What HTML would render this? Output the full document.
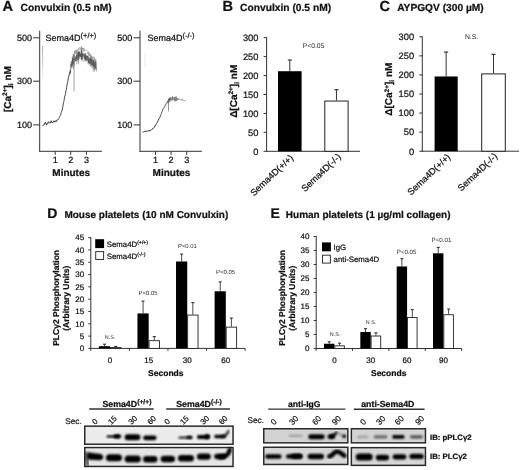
<!DOCTYPE html>
<html><head><meta charset="utf-8"><style>
html,body{margin:0;padding:0;background:#fff;width:520px;height:470px;overflow:hidden}
svg{display:block;filter:grayscale(1);font-family:"Liberation Sans",sans-serif}
text{stroke:#111;stroke-width:0.22px;text-rendering:geometricPrecision}
text.n{stroke:none}
</style></head><body>
<svg width="520" height="470" viewBox="0 0 520 470">
<rect width="520" height="470" fill="#fff"/>
<text x="2.40" y="10.70" font-size="14.6" font-weight="bold" text-anchor="start" fill="#111" >A</text>
<text x="20.60" y="10.60" font-size="10.25" font-weight="bold" text-anchor="start" fill="#111" >Convulxin (0.5 nM)</text>
<text x="222.60" y="10.70" font-size="14.6" font-weight="bold" text-anchor="start" fill="#111" >B</text>
<text x="240.00" y="10.60" font-size="10.25" font-weight="bold" text-anchor="start" fill="#111" >Convulxin (0.5 nM)</text>
<text x="379.60" y="10.70" font-size="14.6" font-weight="bold" text-anchor="start" fill="#111" >C</text>
<text x="397.20" y="10.60" font-size="10.2" font-weight="bold" text-anchor="start" fill="#111" >AYPGQV (300 µM)</text>
<text x="47.20" y="218.30" font-size="14" font-weight="bold" text-anchor="start" fill="#111" >D</text>
<text x="64.40" y="218.20" font-size="10" font-weight="bold" text-anchor="start" fill="#111" >Mouse platelets (10 nM Convulxin)</text>
<text x="270.40" y="217.90" font-size="14" font-weight="bold" text-anchor="start" fill="#111" >E</text>
<text x="285.80" y="217.90" font-size="10" font-weight="bold" text-anchor="start" fill="#111" >Human platelets (1 µg/ml collagen)</text>
<line x1="39.70" y1="30.70" x2="39.70" y2="151.80" stroke="#333" stroke-width="1"/>
<line x1="39.20" y1="151.30" x2="101.90" y2="151.30" stroke="#333" stroke-width="1"/>
<line x1="33.20" y1="37.80" x2="39.70" y2="37.80" stroke="#333" stroke-width="1"/>
<text x="32.10" y="41.00" font-size="9" text-anchor="end" fill="#111" >500</text>
<line x1="33.20" y1="81.20" x2="39.70" y2="81.20" stroke="#333" stroke-width="1"/>
<text x="32.10" y="84.40" font-size="9" text-anchor="end" fill="#111" >300</text>
<line x1="33.20" y1="124.90" x2="39.70" y2="124.90" stroke="#333" stroke-width="1"/>
<text x="32.10" y="128.10" font-size="9" text-anchor="end" fill="#111" >100</text>
<line x1="55.20" y1="151.30" x2="55.20" y2="154.80" stroke="#333" stroke-width="1"/>
<text x="55.20" y="162.80" font-size="9" text-anchor="middle" fill="#111" >1</text>
<line x1="70.70" y1="151.30" x2="70.70" y2="154.80" stroke="#333" stroke-width="1"/>
<text x="70.70" y="162.80" font-size="9" text-anchor="middle" fill="#111" >2</text>
<line x1="86.40" y1="151.30" x2="86.40" y2="154.80" stroke="#333" stroke-width="1"/>
<text x="86.40" y="162.80" font-size="9" text-anchor="middle" fill="#111" >3</text>
<text x="71.20" y="175.80" font-size="10" font-weight="bold" text-anchor="middle" fill="#111" >Minutes</text>
<text x="45.60" y="40.5" font-size="9" fill="#111">Sema4D<tspan font-size="7.4" dy="-2.6">(+/+)</tspan></text>
<polyline points="42.70,125.58 43.00,125.83 43.30,125.31 43.60,125.45 43.90,125.24 44.20,124.10 44.55,123.42 44.90,124.14 45.25,122.61 45.60,121.97 45.93,123.93 46.27,123.82 46.60,125.14 47.00,124.03 47.40,123.76 47.80,122.44 48.13,122.75 48.47,122.66 48.80,121.64 49.13,122.59 49.47,123.07 49.80,122.70 50.15,123.31 50.50,122.55 50.85,121.58 51.20,120.65 51.60,122.32 52.00,122.02 52.40,122.75 52.72,122.69 53.04,122.10 53.36,122.11 53.68,120.95 54.00,121.28 54.35,120.96 54.70,122.00 55.05,122.16 55.40,121.16 55.75,120.87 56.10,120.65 56.45,121.49 56.80,120.30 57.15,120.43 57.50,119.73 57.85,119.89 58.20,119.52 58.53,118.72 58.86,118.35 59.19,117.61 59.51,117.38 59.84,116.28 60.17,115.76 60.50,114.93 60.84,114.11 61.18,112.75 61.52,111.16 61.86,111.01 62.20,110.16 62.53,108.43 62.86,106.37 63.19,104.89 63.51,102.62 63.84,101.71 64.17,99.75 64.50,97.74 64.86,95.76 65.22,94.98 65.58,93.43 65.94,90.63 66.30,89.76 66.64,87.41 66.98,85.22 67.32,83.51 67.66,82.20 68.00,80.45 68.33,77.95 68.67,77.14 69.00,74.95 69.33,74.26 69.67,72.30 70.00,71.46" fill="none" stroke="#3a3a3a" stroke-width="0.95" stroke-linejoin="round" opacity="1"/>
<polyline points="70.00,74.85 70.25,70.04 70.50,72.99 70.75,66.48 71.00,63.62 71.25,66.80 71.50,61.25 71.75,61.58 72.00,62.26 72.25,63.47 72.50,59.42 72.75,58.09 73.00,64.28 73.25,59.43 73.50,64.17 73.75,63.26 74.00,58.69 74.25,58.93 74.50,58.99 74.75,59.57 75.00,58.77 75.25,58.31 75.50,58.63 75.75,61.02 76.00,57.39 76.25,56.62 76.50,58.76 76.75,54.73 77.00,55.08 77.25,60.32 77.50,56.50 77.75,56.55 78.00,52.09 78.25,55.20 78.50,56.39 78.75,51.79 79.00,56.43 79.25,56.43 79.50,51.73 79.75,56.14 80.00,54.73 80.25,56.48 80.50,53.90 80.75,56.78 81.00,57.07 81.25,51.39 81.50,51.73 81.75,56.70 82.00,59.04 82.25,53.38 82.50,55.07 82.75,56.20 83.00,54.06 83.25,54.60 83.50,54.38 83.75,55.02 84.00,57.01 84.25,54.84 84.50,55.64 84.75,58.99 85.00,53.22 85.25,57.76 85.50,59.30 85.75,56.11 86.00,55.61 86.25,60.47 86.50,56.16 86.75,55.96 87.00,58.15 87.25,60.46 87.50,55.90 87.75,57.87 88.00,58.17 88.25,62.33 88.50,59.34 88.75,62.84 89.00,57.52 89.25,59.03 89.50,61.70 89.75,63.75 90.00,60.44 90.25,58.80 90.50,58.13 90.75,61.57 91.00,59.03 91.25,64.16 91.50,64.62 91.75,59.59 92.00,60.56 92.25,65.00 92.50,63.89 92.75,65.41 93.00,61.93 93.25,60.41 93.50,61.92 93.75,66.14 94.00,62.17 94.25,62.97 94.50,63.74 94.75,63.96 95.00,64.08 95.25,68.36 95.50,62.45 95.75,61.44 96.00,69.15 96.25,68.84 96.50,69.90" fill="none" stroke="#444" stroke-width="0.8" stroke-linejoin="round" opacity="0.75"/>
<line x1="81.73" y1="46.13" x2="81.73" y2="59.68" stroke="#555" stroke-width="0.75" opacity="0.55"/>
<line x1="90.13" y1="54.15" x2="90.13" y2="66.79" stroke="#555" stroke-width="0.75" opacity="0.55"/>
<line x1="77.80" y1="53.66" x2="77.80" y2="58.00" stroke="#555" stroke-width="0.75" opacity="0.55"/>
<line x1="85.89" y1="53.40" x2="85.89" y2="59.41" stroke="#555" stroke-width="0.75" opacity="0.55"/>
<line x1="94.40" y1="56.88" x2="94.40" y2="71.61" stroke="#555" stroke-width="0.75" opacity="0.55"/>
<line x1="94.29" y1="62.06" x2="94.29" y2="70.02" stroke="#555" stroke-width="0.75" opacity="0.55"/>
<line x1="74.64" y1="54.71" x2="74.64" y2="62.00" stroke="#555" stroke-width="0.75" opacity="0.55"/>
<line x1="81.17" y1="48.22" x2="81.17" y2="60.35" stroke="#555" stroke-width="0.75" opacity="0.55"/>
<line x1="76.82" y1="51.06" x2="76.82" y2="64.44" stroke="#555" stroke-width="0.75" opacity="0.55"/>
<line x1="79.50" y1="52.30" x2="79.50" y2="59.07" stroke="#555" stroke-width="0.75" opacity="0.55"/>
<line x1="74.63" y1="50.55" x2="74.63" y2="66.01" stroke="#555" stroke-width="0.75" opacity="0.55"/>
<line x1="92.23" y1="60.27" x2="92.23" y2="65.29" stroke="#555" stroke-width="0.75" opacity="0.55"/>
<line x1="71.35" y1="63.22" x2="71.35" y2="68.89" stroke="#555" stroke-width="0.75" opacity="0.55"/>
<line x1="81.42" y1="49.91" x2="81.42" y2="57.14" stroke="#555" stroke-width="0.75" opacity="0.55"/>
<line x1="71.48" y1="63.57" x2="71.48" y2="66.43" stroke="#555" stroke-width="0.75" opacity="0.55"/>
<line x1="96.32" y1="62.62" x2="96.32" y2="71.70" stroke="#555" stroke-width="0.75" opacity="0.55"/>
<line x1="78.53" y1="52.90" x2="78.53" y2="59.65" stroke="#555" stroke-width="0.75" opacity="0.55"/>
<line x1="85.84" y1="55.30" x2="85.84" y2="60.63" stroke="#555" stroke-width="0.75" opacity="0.55"/>
<line x1="73.34" y1="55.24" x2="73.34" y2="64.66" stroke="#555" stroke-width="0.75" opacity="0.55"/>
<line x1="72.16" y1="60.35" x2="72.16" y2="65.81" stroke="#555" stroke-width="0.75" opacity="0.55"/>
<line x1="91.13" y1="56.74" x2="91.13" y2="65.78" stroke="#555" stroke-width="0.75" opacity="0.55"/>
<line x1="81.65" y1="51.65" x2="81.65" y2="59.72" stroke="#555" stroke-width="0.75" opacity="0.55"/>
<line x1="81.35" y1="50.33" x2="81.35" y2="58.93" stroke="#555" stroke-width="0.75" opacity="0.55"/>
<line x1="84.47" y1="53.85" x2="84.47" y2="61.30" stroke="#555" stroke-width="0.75" opacity="0.55"/>
<line x1="81.50" y1="46.50" x2="81.50" y2="60.40" stroke="#555" stroke-width="0.75" opacity="0.55"/>
<line x1="94.24" y1="60.07" x2="94.24" y2="69.53" stroke="#555" stroke-width="0.75" opacity="0.55"/>
<line x1="73.32" y1="54.15" x2="73.32" y2="68.80" stroke="#555" stroke-width="0.75" opacity="0.55"/>
<line x1="91.40" y1="55.59" x2="91.40" y2="67.16" stroke="#555" stroke-width="0.75" opacity="0.55"/>
<line x1="72.78" y1="59.53" x2="72.78" y2="64.54" stroke="#555" stroke-width="0.75" opacity="0.55"/>
<line x1="90.91" y1="60.23" x2="90.91" y2="62.66" stroke="#555" stroke-width="0.75" opacity="0.55"/>
<line x1="93.77" y1="62.46" x2="93.77" y2="67.59" stroke="#555" stroke-width="0.75" opacity="0.55"/>
<line x1="73.27" y1="54.00" x2="73.27" y2="68.76" stroke="#555" stroke-width="0.75" opacity="0.55"/>
<line x1="95.72" y1="59.31" x2="95.72" y2="67.67" stroke="#555" stroke-width="0.75" opacity="0.55"/>
<line x1="90.72" y1="56.05" x2="90.72" y2="63.78" stroke="#555" stroke-width="0.75" opacity="0.55"/>
<line x1="90.22" y1="57.71" x2="90.22" y2="66.01" stroke="#555" stroke-width="0.75" opacity="0.55"/>
<line x1="85.23" y1="53.06" x2="85.23" y2="60.94" stroke="#555" stroke-width="0.75" opacity="0.55"/>
<line x1="76.75" y1="50.78" x2="76.75" y2="61.04" stroke="#555" stroke-width="0.75" opacity="0.55"/>
<line x1="79.92" y1="51.89" x2="79.92" y2="58.46" stroke="#555" stroke-width="0.75" opacity="0.55"/>
<line x1="72.25" y1="56.21" x2="72.25" y2="66.42" stroke="#555" stroke-width="0.75" opacity="0.55"/>
<line x1="90.18" y1="57.72" x2="90.18" y2="64.37" stroke="#555" stroke-width="0.75" opacity="0.55"/>
<line x1="88.19" y1="55.40" x2="88.19" y2="64.59" stroke="#555" stroke-width="0.75" opacity="0.55"/>
<line x1="94.23" y1="62.70" x2="94.23" y2="67.52" stroke="#555" stroke-width="0.75" opacity="0.55"/>
<line x1="94.75" y1="60.56" x2="94.75" y2="69.92" stroke="#555" stroke-width="0.75" opacity="0.55"/>
<line x1="75.02" y1="55.84" x2="75.02" y2="61.44" stroke="#555" stroke-width="0.75" opacity="0.55"/>
<line x1="78.50" y1="52.12" x2="78.50" y2="60.22" stroke="#555" stroke-width="0.75" opacity="0.55"/>
<line x1="77.99" y1="51.33" x2="77.99" y2="63.13" stroke="#555" stroke-width="0.75" opacity="0.55"/>
<line x1="85.79" y1="55.45" x2="85.79" y2="59.19" stroke="#555" stroke-width="0.75" opacity="0.55"/>
<line x1="82.95" y1="53.10" x2="82.95" y2="58.63" stroke="#555" stroke-width="0.75" opacity="0.55"/>
<line x1="78.70" y1="52.28" x2="78.70" y2="64.02" stroke="#555" stroke-width="0.75" opacity="0.55"/>
<line x1="82.95" y1="50.98" x2="82.95" y2="61.85" stroke="#555" stroke-width="0.75" opacity="0.55"/>
<line x1="92.18" y1="58.09" x2="92.18" y2="68.04" stroke="#555" stroke-width="0.75" opacity="0.55"/>
<line x1="93.13" y1="58.55" x2="93.13" y2="68.92" stroke="#555" stroke-width="0.75" opacity="0.55"/>
<line x1="82.62" y1="53.30" x2="82.62" y2="59.13" stroke="#555" stroke-width="0.75" opacity="0.55"/>
<line x1="88.23" y1="50.94" x2="88.23" y2="64.22" stroke="#555" stroke-width="0.75" opacity="0.55"/>
<line x1="75.12" y1="55.85" x2="75.12" y2="61.74" stroke="#555" stroke-width="0.75" opacity="0.55"/>
<line x1="93.18" y1="58.87" x2="93.18" y2="71.74" stroke="#555" stroke-width="0.75" opacity="0.55"/>
<line x1="78.46" y1="50.94" x2="78.46" y2="57.92" stroke="#555" stroke-width="0.75" opacity="0.55"/>
<line x1="72.50" y1="57.71" x2="72.50" y2="67.02" stroke="#555" stroke-width="0.75" opacity="0.55"/>
<line x1="85.67" y1="55.20" x2="85.67" y2="61.69" stroke="#555" stroke-width="0.75" opacity="0.55"/>
<line x1="81.78" y1="52.43" x2="81.78" y2="59.84" stroke="#555" stroke-width="0.75" opacity="0.55"/>
<polyline points="73.00,58.00 73.30,55.02 73.60,55.20 73.90,52.82 74.20,53.01 74.50,54.23 74.80,51.30 75.10,54.20 75.40,53.80 75.70,49.73 76.00,52.94 76.30,50.20 76.60,51.70 76.90,51.38 77.20,49.10 77.50,50.52 77.80,50.18 78.10,50.60 78.40,47.97 78.70,49.87 79.00,50.53 79.30,49.31 79.60,48.76 79.90,46.95 80.20,48.67 80.50,48.10 80.80,49.76 81.10,49.64 81.40,49.19 81.70,47.55 82.00,49.64 82.31,49.69 82.62,47.82 82.92,51.06 83.23,50.15 83.54,47.92 83.85,51.59 84.15,48.23 84.46,49.18 84.77,51.01 85.08,50.58 85.38,50.51 85.69,51.03 86.00,50.31 86.31,50.02 86.62,49.77 86.92,49.64 87.23,52.83 87.54,53.35 87.85,52.77 88.15,53.98 88.46,52.65 88.77,52.59 89.08,53.45 89.38,55.95 89.69,52.64 90.00,55.02 90.31,54.20 90.62,56.80 90.92,55.28 91.23,55.50 91.54,56.11 91.85,57.03 92.15,58.35 92.46,56.81 92.77,59.30 93.08,56.37 93.38,57.37 93.69,56.93 94.00,57.30 94.31,60.60 94.62,60.75 94.94,58.74 95.25,59.13 95.56,60.51 95.88,62.32 96.19,63.01 96.50,63.09" fill="none" stroke="#777" stroke-width="0.7" stroke-linejoin="round" opacity="0.5"/>
<defs><linearGradient id="fade" x1="0" y1="0" x2="0" y2="1"><stop offset="0" stop-color="#999"/><stop offset="1" stop-color="#999" stop-opacity="0"/></linearGradient></defs>
<rect x="42.2" y="46" width="0.9" height="36" fill="url(#fade)"/>
<line x1="74.10" y1="60.00" x2="74.10" y2="91.40" stroke="#888" stroke-width="0.8"/>
<line x1="140.00" y1="30.70" x2="140.00" y2="151.80" stroke="#333" stroke-width="1"/>
<line x1="139.50" y1="151.30" x2="201.90" y2="151.30" stroke="#333" stroke-width="1"/>
<line x1="133.50" y1="37.80" x2="140.00" y2="37.80" stroke="#333" stroke-width="1"/>
<text x="132.40" y="41.00" font-size="9" text-anchor="end" fill="#111" >500</text>
<line x1="133.50" y1="81.20" x2="140.00" y2="81.20" stroke="#333" stroke-width="1"/>
<text x="132.40" y="84.40" font-size="9" text-anchor="end" fill="#111" >300</text>
<line x1="133.50" y1="124.90" x2="140.00" y2="124.90" stroke="#333" stroke-width="1"/>
<text x="132.40" y="128.10" font-size="9" text-anchor="end" fill="#111" >100</text>
<line x1="155.50" y1="151.30" x2="155.50" y2="154.80" stroke="#333" stroke-width="1"/>
<text x="155.50" y="162.80" font-size="9" text-anchor="middle" fill="#111" >1</text>
<line x1="171.00" y1="151.30" x2="171.00" y2="154.80" stroke="#333" stroke-width="1"/>
<text x="171.00" y="162.80" font-size="9" text-anchor="middle" fill="#111" >2</text>
<line x1="186.70" y1="151.30" x2="186.70" y2="154.80" stroke="#333" stroke-width="1"/>
<text x="186.70" y="162.80" font-size="9" text-anchor="middle" fill="#111" >3</text>
<text x="171.50" y="175.80" font-size="10" font-weight="bold" text-anchor="middle" fill="#111" >Minutes</text>
<text x="147.50" y="40.5" font-size="9" fill="#111">Sema4D<tspan font-size="7.4" dy="-2.6">(-/-)</tspan></text>
<polyline points="142.70,132.41 143.00,131.78 143.30,131.98 143.60,131.63 143.90,131.93 144.20,131.88 144.50,131.34 144.80,131.30 145.10,131.84 145.40,130.84 145.70,131.66 146.00,131.67 146.31,131.68 146.62,130.95 146.94,131.09 147.25,131.07 147.56,131.08 147.88,131.43 148.19,131.03 148.50,130.51 148.81,131.13 149.12,130.62 149.44,130.70 149.75,130.80 150.06,129.87 150.38,130.74 150.69,130.55 151.00,130.29 151.31,130.04 151.62,129.68 151.94,129.07 152.25,129.19 152.56,128.31 152.88,128.58 153.19,128.46 153.50,127.93 153.82,127.65 154.15,127.70 154.47,127.20 154.80,125.86 155.12,126.23 155.45,125.60 155.78,124.49 156.10,124.43 156.42,123.64 156.73,122.81 157.05,122.72 157.37,122.55 157.68,121.18 158.00,121.19 158.32,120.34 158.63,119.03 158.95,119.25 159.27,118.30 159.58,118.05 159.90,117.16 160.22,116.39 160.55,115.11 160.88,114.87 161.20,114.22 161.53,113.33 161.85,112.02 162.18,111.61 162.50,110.48 162.82,109.45 163.13,108.78 163.45,108.24 163.77,107.81 164.08,107.18 164.40,107.00 164.72,106.66 165.03,105.88 165.35,105.16 165.67,104.85 165.98,103.85 166.30,103.46 166.62,103.41 166.94,102.58 167.26,101.92 167.58,102.38 167.90,101.76 168.22,100.78 168.54,100.39 168.86,100.37 169.18,100.13 169.50,98.84 169.82,98.22 170.14,98.62 170.45,99.91 170.77,98.28 171.09,98.95 171.41,98.22 171.73,98.17 172.05,97.98 172.36,98.45 172.68,97.79 173.00,97.37" fill="none" stroke="#3a3a3a" stroke-width="0.9" stroke-linejoin="round" opacity="1"/>
<line x1="169.10" y1="99.06" x2="169.10" y2="100.50" stroke="#444" stroke-width="0.8" opacity="0.6"/>
<line x1="168.22" y1="99.84" x2="168.22" y2="102.80" stroke="#444" stroke-width="0.8" opacity="0.6"/>
<line x1="168.51" y1="99.56" x2="168.51" y2="101.39" stroke="#444" stroke-width="0.8" opacity="0.6"/>
<line x1="177.66" y1="98.55" x2="177.66" y2="100.13" stroke="#444" stroke-width="0.8" opacity="0.6"/>
<line x1="169.65" y1="98.06" x2="169.65" y2="100.45" stroke="#444" stroke-width="0.8" opacity="0.6"/>
<line x1="168.52" y1="99.33" x2="168.52" y2="103.14" stroke="#444" stroke-width="0.8" opacity="0.6"/>
<line x1="172.65" y1="96.90" x2="172.65" y2="100.18" stroke="#444" stroke-width="0.8" opacity="0.6"/>
<line x1="170.66" y1="96.91" x2="170.66" y2="100.82" stroke="#444" stroke-width="0.8" opacity="0.6"/>
<line x1="168.94" y1="97.54" x2="168.94" y2="102.15" stroke="#444" stroke-width="0.8" opacity="0.6"/>
<line x1="168.04" y1="100.92" x2="168.04" y2="101.80" stroke="#444" stroke-width="0.8" opacity="0.6"/>
<line x1="168.37" y1="100.02" x2="168.37" y2="102.02" stroke="#444" stroke-width="0.8" opacity="0.6"/>
<line x1="170.01" y1="97.18" x2="170.01" y2="102.32" stroke="#444" stroke-width="0.8" opacity="0.6"/>
<line x1="177.17" y1="97.95" x2="177.17" y2="100.76" stroke="#444" stroke-width="0.8" opacity="0.6"/>
<line x1="174.07" y1="97.42" x2="174.07" y2="100.34" stroke="#444" stroke-width="0.8" opacity="0.6"/>
<line x1="176.50" y1="98.17" x2="176.50" y2="99.65" stroke="#444" stroke-width="0.8" opacity="0.6"/>
<line x1="174.80" y1="97.32" x2="174.80" y2="101.44" stroke="#444" stroke-width="0.8" opacity="0.6"/>
<line x1="175.34" y1="96.66" x2="175.34" y2="101.72" stroke="#444" stroke-width="0.8" opacity="0.6"/>
<line x1="171.63" y1="97.94" x2="171.63" y2="100.64" stroke="#444" stroke-width="0.8" opacity="0.6"/>
<line x1="172.81" y1="97.84" x2="172.81" y2="99.93" stroke="#444" stroke-width="0.8" opacity="0.6"/>
<line x1="174.06" y1="97.04" x2="174.06" y2="100.42" stroke="#444" stroke-width="0.8" opacity="0.6"/>
<line x1="169.54" y1="98.61" x2="169.54" y2="101.24" stroke="#444" stroke-width="0.8" opacity="0.6"/>
<line x1="175.58" y1="97.83" x2="175.58" y2="100.09" stroke="#444" stroke-width="0.8" opacity="0.6"/>
<line x1="176.44" y1="96.53" x2="176.44" y2="101.32" stroke="#444" stroke-width="0.8" opacity="0.6"/>
<line x1="172.50" y1="96.00" x2="172.50" y2="100.38" stroke="#444" stroke-width="0.8" opacity="0.6"/>
<line x1="171.70" y1="98.16" x2="171.70" y2="100.06" stroke="#444" stroke-width="0.8" opacity="0.6"/>
<line x1="169.05" y1="99.14" x2="169.05" y2="100.93" stroke="#444" stroke-width="0.8" opacity="0.6"/>
<line x1="174.49" y1="98.14" x2="174.49" y2="99.35" stroke="#444" stroke-width="0.8" opacity="0.6"/>
<line x1="174.45" y1="97.92" x2="174.45" y2="99.83" stroke="#444" stroke-width="0.8" opacity="0.6"/>
<line x1="177.67" y1="98.03" x2="177.67" y2="100.08" stroke="#444" stroke-width="0.8" opacity="0.6"/>
<line x1="175.81" y1="96.70" x2="175.81" y2="100.56" stroke="#444" stroke-width="0.8" opacity="0.6"/>
<polyline points="169.50,98.88 169.82,98.76 170.14,98.48 170.45,99.88 170.77,98.36 171.09,98.09 171.41,99.89 171.73,98.26 172.05,99.56 172.36,97.85 172.68,98.52 173.00,97.95 173.31,99.20 173.62,98.81 173.92,98.90 174.23,99.18 174.54,99.44 174.85,98.42 175.15,98.98 175.46,98.70 175.77,98.07 176.08,99.56 176.38,99.11 176.69,99.59 177.00,98.41 177.31,99.14 177.62,99.05 177.92,99.64 178.23,98.40 178.54,99.00 178.85,99.34 179.15,98.57 179.46,99.60 179.77,100.02 180.08,99.46 180.38,99.97 180.69,99.95 181.00,99.23 181.31,99.52 181.63,100.82 181.94,99.51 182.26,99.72 182.57,99.04 182.89,99.32 183.20,99.23 183.51,100.78 183.83,100.38 184.14,100.69 184.46,100.93 184.77,100.20 185.09,100.85 185.40,100.07" fill="none" stroke="#999" stroke-width="0.8" stroke-linejoin="round" opacity="0.8"/>
<line x1="168.50" y1="100.00" x2="168.50" y2="111.20" stroke="#777" stroke-width="0.8"/>
<line x1="145.00" y1="53.00" x2="145.00" y2="66.70" stroke="#e4e4e4" stroke-width="0.8"/>
<text transform="translate(10.60,89.10) rotate(-90)" font-size="10" font-weight="bold" text-anchor="middle" fill="#111">[Ca<tspan font-size="6.5" dy="-3.5">2+</tspan><tspan dy="3.5">]</tspan><tspan font-size="6.5" dy="2">i</tspan><tspan dy="-2"> nM</tspan></text>
<line x1="266.60" y1="37.20" x2="266.60" y2="151.80" stroke="#333" stroke-width="1"/>
<line x1="266.10" y1="151.30" x2="360.00" y2="151.30" stroke="#333" stroke-width="1"/>
<line x1="263.60" y1="151.30" x2="266.60" y2="151.30" stroke="#333" stroke-width="1"/>
<text x="258.40" y="154.60" font-size="9.3" text-anchor="end" fill="#111" >0</text>
<line x1="263.60" y1="132.37" x2="266.60" y2="132.37" stroke="#333" stroke-width="1"/>
<text x="258.40" y="135.67" font-size="9.3" text-anchor="end" fill="#111" >50</text>
<line x1="263.60" y1="113.43" x2="266.60" y2="113.43" stroke="#333" stroke-width="1"/>
<text x="258.40" y="116.73" font-size="9.3" text-anchor="end" fill="#111" >100</text>
<line x1="263.60" y1="94.50" x2="266.60" y2="94.50" stroke="#333" stroke-width="1"/>
<text x="258.40" y="97.80" font-size="9.3" text-anchor="end" fill="#111" >150</text>
<line x1="263.60" y1="75.57" x2="266.60" y2="75.57" stroke="#333" stroke-width="1"/>
<text x="258.40" y="78.87" font-size="9.3" text-anchor="end" fill="#111" >200</text>
<line x1="263.60" y1="56.63" x2="266.60" y2="56.63" stroke="#333" stroke-width="1"/>
<text x="258.40" y="59.93" font-size="9.3" text-anchor="end" fill="#111" >250</text>
<line x1="263.60" y1="37.70" x2="266.60" y2="37.70" stroke="#333" stroke-width="1"/>
<text x="258.40" y="41.00" font-size="9.3" text-anchor="end" fill="#111" >300</text>
<line x1="289.80" y1="60.04" x2="289.80" y2="71.21" stroke="#333" stroke-width="1"/>
<line x1="287.80" y1="60.04" x2="291.80" y2="60.04" stroke="#333" stroke-width="1.2"/>
<rect x="278.00" y="71.21" width="23.60" height="80.09" fill="#000" stroke="none" stroke-width="1"/>
<line x1="336.45" y1="89.69" x2="336.45" y2="100.56" stroke="#333" stroke-width="1"/>
<line x1="334.45" y1="89.69" x2="338.45" y2="89.69" stroke="#333" stroke-width="1.2"/>
<rect x="324.80" y="101.06" width="23.30" height="50.24" fill="#fff" stroke="#222" stroke-width="1"/>
<text x="302.70" y="47.80" font-size="6.8" text-anchor="start" fill="#2a2a2a" class="n">P&lt;0.05</text>
<text transform="translate(236.60,91.30) rotate(-90)" font-size="10" font-weight="bold" text-anchor="middle" fill="#111">Δ[Ca<tspan font-size="6.5" dy="-3.5">2+</tspan><tspan dy="3.5">]</tspan><tspan font-size="6.5" dy="2">i</tspan><tspan dy="-2"> nM</tspan></text>
<text transform="translate(293.90,158.60) rotate(-43.5)" font-size="9.2" text-anchor="end" fill="#111">Sema4D(+/+)</text>
<text transform="translate(341.60,157.50) rotate(-43.5)" font-size="9.2" text-anchor="end" fill="#111">Sema4D(-/-)</text>
<line x1="422.30" y1="36.30" x2="422.30" y2="151.70" stroke="#333" stroke-width="1"/>
<line x1="421.80" y1="151.20" x2="519.00" y2="151.20" stroke="#333" stroke-width="1"/>
<line x1="419.30" y1="151.20" x2="422.30" y2="151.20" stroke="#333" stroke-width="1"/>
<text x="414.10" y="154.50" font-size="9.3" text-anchor="end" fill="#111" >0</text>
<line x1="419.30" y1="132.13" x2="422.30" y2="132.13" stroke="#333" stroke-width="1"/>
<text x="414.10" y="135.43" font-size="9.3" text-anchor="end" fill="#111" >50</text>
<line x1="419.30" y1="113.07" x2="422.30" y2="113.07" stroke="#333" stroke-width="1"/>
<text x="414.10" y="116.37" font-size="9.3" text-anchor="end" fill="#111" >100</text>
<line x1="419.30" y1="94.00" x2="422.30" y2="94.00" stroke="#333" stroke-width="1"/>
<text x="414.10" y="97.30" font-size="9.3" text-anchor="end" fill="#111" >150</text>
<line x1="419.30" y1="74.93" x2="422.30" y2="74.93" stroke="#333" stroke-width="1"/>
<text x="414.10" y="78.23" font-size="9.3" text-anchor="end" fill="#111" >200</text>
<line x1="419.30" y1="55.87" x2="422.30" y2="55.87" stroke="#333" stroke-width="1"/>
<text x="414.10" y="59.17" font-size="9.3" text-anchor="end" fill="#111" >250</text>
<line x1="419.30" y1="36.80" x2="422.30" y2="36.80" stroke="#333" stroke-width="1"/>
<text x="414.10" y="40.10" font-size="9.3" text-anchor="end" fill="#111" >300</text>
<line x1="446.15" y1="52.05" x2="446.15" y2="76.46" stroke="#333" stroke-width="1"/>
<line x1="444.15" y1="52.05" x2="448.15" y2="52.05" stroke="#333" stroke-width="1.2"/>
<rect x="434.60" y="76.46" width="23.10" height="74.74" fill="#000" stroke="none" stroke-width="1"/>
<line x1="493.50" y1="54.34" x2="493.50" y2="73.41" stroke="#333" stroke-width="1"/>
<line x1="491.50" y1="54.34" x2="495.50" y2="54.34" stroke="#333" stroke-width="1.2"/>
<rect x="481.70" y="73.91" width="23.60" height="77.29" fill="#fff" stroke="#222" stroke-width="1"/>
<text x="464.90" y="39.40" font-size="6.8" text-anchor="start" fill="#2a2a2a" class="n">N.S.</text>
<text transform="translate(392.40,89.20) rotate(-90)" font-size="10" font-weight="bold" text-anchor="middle" fill="#111">Δ[Ca<tspan font-size="6.5" dy="-3.5">2+</tspan><tspan dy="3.5">]</tspan><tspan font-size="6.5" dy="2">i</tspan><tspan dy="-2"> nM</tspan></text>
<text transform="translate(451.00,157.80) rotate(-43.5)" font-size="9.2" text-anchor="end" fill="#111">Sema4D(+/+)</text>
<text transform="translate(498.00,157.00) rotate(-43.5)" font-size="9.2" text-anchor="end" fill="#111">Sema4D(-/-)</text>
<line x1="90.80" y1="237.10" x2="90.80" y2="348.90" stroke="#333" stroke-width="1"/>
<line x1="90.30" y1="348.40" x2="245.10" y2="348.40" stroke="#333" stroke-width="1"/>
<line x1="88.30" y1="348.40" x2="90.80" y2="348.40" stroke="#333" stroke-width="1"/>
<text x="84.10" y="351.25" font-size="8" text-anchor="end" fill="#111" >0</text>
<line x1="88.30" y1="336.09" x2="90.80" y2="336.09" stroke="#333" stroke-width="1"/>
<text x="84.10" y="338.94" font-size="8" text-anchor="end" fill="#111" >5</text>
<line x1="88.30" y1="323.78" x2="90.80" y2="323.78" stroke="#333" stroke-width="1"/>
<text x="84.10" y="326.63" font-size="8" text-anchor="end" fill="#111" >10</text>
<line x1="88.30" y1="311.47" x2="90.80" y2="311.47" stroke="#333" stroke-width="1"/>
<text x="84.10" y="314.32" font-size="8" text-anchor="end" fill="#111" >15</text>
<line x1="88.30" y1="299.16" x2="90.80" y2="299.16" stroke="#333" stroke-width="1"/>
<text x="84.10" y="302.01" font-size="8" text-anchor="end" fill="#111" >20</text>
<line x1="88.30" y1="286.84" x2="90.80" y2="286.84" stroke="#333" stroke-width="1"/>
<text x="84.10" y="289.69" font-size="8" text-anchor="end" fill="#111" >25</text>
<line x1="88.30" y1="274.53" x2="90.80" y2="274.53" stroke="#333" stroke-width="1"/>
<text x="84.10" y="277.38" font-size="8" text-anchor="end" fill="#111" >30</text>
<line x1="88.30" y1="262.22" x2="90.80" y2="262.22" stroke="#333" stroke-width="1"/>
<text x="84.10" y="265.07" font-size="8" text-anchor="end" fill="#111" >35</text>
<line x1="88.30" y1="249.91" x2="90.80" y2="249.91" stroke="#333" stroke-width="1"/>
<text x="84.10" y="252.76" font-size="8" text-anchor="end" fill="#111" >40</text>
<line x1="88.30" y1="237.60" x2="90.80" y2="237.60" stroke="#333" stroke-width="1"/>
<text x="84.10" y="240.45" font-size="8" text-anchor="end" fill="#111" >45</text>
<line x1="90.80" y1="348.40" x2="90.80" y2="350.80" stroke="#333" stroke-width="1"/>
<line x1="129.38" y1="348.40" x2="129.38" y2="350.80" stroke="#333" stroke-width="1"/>
<line x1="167.95" y1="348.40" x2="167.95" y2="350.80" stroke="#333" stroke-width="1"/>
<line x1="206.53" y1="348.40" x2="206.53" y2="350.80" stroke="#333" stroke-width="1"/>
<line x1="245.10" y1="348.40" x2="245.10" y2="350.80" stroke="#333" stroke-width="1"/>
<line x1="104.49" y1="344.21" x2="104.49" y2="346.18" stroke="#333" stroke-width="0.9"/>
<line x1="102.99" y1="344.21" x2="105.99" y2="344.21" stroke="#333" stroke-width="1.1"/>
<rect x="98.89" y="346.18" width="11.20" height="2.22" fill="#000" stroke="none" stroke-width="1"/>
<line x1="115.69" y1="346.43" x2="115.69" y2="347.17" stroke="#333" stroke-width="0.9"/>
<line x1="114.19" y1="346.43" x2="117.19" y2="346.43" stroke="#333" stroke-width="1.1"/>
<rect x="110.49" y="347.57" width="10.40" height="0.83" fill="#fff" stroke="#222" stroke-width="0.9"/>
<text x="110.09" y="363.10" font-size="8" text-anchor="middle" fill="#111" >0</text>
<line x1="143.06" y1="301.13" x2="143.06" y2="313.44" stroke="#333" stroke-width="0.9"/>
<line x1="141.56" y1="301.13" x2="144.56" y2="301.13" stroke="#333" stroke-width="1.1"/>
<rect x="137.46" y="313.44" width="11.20" height="34.96" fill="#000" stroke="none" stroke-width="1"/>
<line x1="154.26" y1="336.58" x2="154.26" y2="340.27" stroke="#333" stroke-width="0.9"/>
<line x1="152.76" y1="336.58" x2="155.76" y2="336.58" stroke="#333" stroke-width="1.1"/>
<rect x="149.06" y="340.67" width="10.40" height="7.73" fill="#fff" stroke="#222" stroke-width="0.9"/>
<text x="148.66" y="363.10" font-size="8" text-anchor="middle" fill="#111" >15</text>
<line x1="181.64" y1="254.10" x2="181.64" y2="261.48" stroke="#333" stroke-width="0.9"/>
<line x1="180.14" y1="254.10" x2="183.14" y2="254.10" stroke="#333" stroke-width="1.1"/>
<rect x="176.04" y="261.48" width="11.20" height="86.92" fill="#000" stroke="none" stroke-width="1"/>
<line x1="192.84" y1="302.60" x2="192.84" y2="314.67" stroke="#333" stroke-width="0.9"/>
<line x1="191.34" y1="302.60" x2="194.34" y2="302.60" stroke="#333" stroke-width="1.1"/>
<rect x="187.64" y="315.07" width="10.40" height="33.33" fill="#fff" stroke="#222" stroke-width="0.9"/>
<text x="187.24" y="363.10" font-size="8" text-anchor="middle" fill="#111" >30</text>
<line x1="220.21" y1="281.92" x2="220.21" y2="291.28" stroke="#333" stroke-width="0.9"/>
<line x1="218.71" y1="281.92" x2="221.71" y2="281.92" stroke="#333" stroke-width="1.1"/>
<rect x="214.61" y="291.28" width="11.20" height="57.12" fill="#000" stroke="none" stroke-width="1"/>
<line x1="231.41" y1="318.11" x2="231.41" y2="326.73" stroke="#333" stroke-width="0.9"/>
<line x1="229.91" y1="318.11" x2="232.91" y2="318.11" stroke="#333" stroke-width="1.1"/>
<rect x="226.21" y="327.13" width="10.40" height="21.27" fill="#fff" stroke="#222" stroke-width="0.9"/>
<text x="225.81" y="363.10" font-size="8" text-anchor="middle" fill="#111" >60</text>
<text x="104.80" y="339.00" font-size="5.4" text-anchor="start" fill="#2a2a2a" class="n">N.S.</text>
<text x="138.40" y="294.80" font-size="6.0" text-anchor="start" fill="#2a2a2a" class="n">P&lt;0.05</text>
<text x="178.00" y="247.50" font-size="5.9" text-anchor="start" fill="#2a2a2a" class="n">P&lt;0.01</text>
<text x="216.00" y="273.80" font-size="6.0" text-anchor="start" fill="#2a2a2a" class="n">P&lt;0.05</text>
<text x="165.80" y="375.60" font-size="8.5" font-weight="bold" text-anchor="middle" fill="#111" >Seconds</text>
<rect x="95.20" y="239.20" width="8.90" height="8.90" fill="#000" stroke="none" stroke-width="1"/>
<rect x="95.70" y="251.60" width="7.90" height="7.90" fill="#fff" stroke="#333" stroke-width="1"/>
<text x="106.80" y="246.60" font-size="7.8" fill="#111">Sema4D<tspan font-size="5.2" dy="-2.8">(+/+)</tspan></text>
<text x="106.80" y="258.50" font-size="7.8" fill="#111">Sema4D<tspan font-size="5.2" dy="-2.8">(-/-)</tspan></text>
<text transform="translate(58.8,297.9) rotate(-90)" font-size="8.5" font-weight="bold" text-anchor="middle" fill="#111">PLCγ2 Phosphorylation</text>
<text transform="translate(68.7,298.2) rotate(-90)" font-size="8.5" font-weight="bold" text-anchor="middle" fill="#111">(Arbitrary Units)</text>
<line x1="316.20" y1="236.00" x2="316.20" y2="349.00" stroke="#333" stroke-width="1"/>
<line x1="315.70" y1="348.50" x2="461.60" y2="348.50" stroke="#333" stroke-width="1"/>
<line x1="313.70" y1="348.50" x2="316.20" y2="348.50" stroke="#333" stroke-width="1"/>
<text x="309.50" y="351.35" font-size="8" text-anchor="end" fill="#111" >0</text>
<line x1="313.70" y1="334.50" x2="316.20" y2="334.50" stroke="#333" stroke-width="1"/>
<text x="309.50" y="337.35" font-size="8" text-anchor="end" fill="#111" >5</text>
<line x1="313.70" y1="320.50" x2="316.20" y2="320.50" stroke="#333" stroke-width="1"/>
<text x="309.50" y="323.35" font-size="8" text-anchor="end" fill="#111" >10</text>
<line x1="313.70" y1="306.50" x2="316.20" y2="306.50" stroke="#333" stroke-width="1"/>
<text x="309.50" y="309.35" font-size="8" text-anchor="end" fill="#111" >15</text>
<line x1="313.70" y1="292.50" x2="316.20" y2="292.50" stroke="#333" stroke-width="1"/>
<text x="309.50" y="295.35" font-size="8" text-anchor="end" fill="#111" >20</text>
<line x1="313.70" y1="278.50" x2="316.20" y2="278.50" stroke="#333" stroke-width="1"/>
<text x="309.50" y="281.35" font-size="8" text-anchor="end" fill="#111" >25</text>
<line x1="313.70" y1="264.50" x2="316.20" y2="264.50" stroke="#333" stroke-width="1"/>
<text x="309.50" y="267.35" font-size="8" text-anchor="end" fill="#111" >30</text>
<line x1="313.70" y1="250.50" x2="316.20" y2="250.50" stroke="#333" stroke-width="1"/>
<text x="309.50" y="253.35" font-size="8" text-anchor="end" fill="#111" >35</text>
<line x1="313.70" y1="236.50" x2="316.20" y2="236.50" stroke="#333" stroke-width="1"/>
<text x="309.50" y="239.35" font-size="8" text-anchor="end" fill="#111" >40</text>
<line x1="316.20" y1="348.50" x2="316.20" y2="350.90" stroke="#333" stroke-width="1"/>
<line x1="352.55" y1="348.50" x2="352.55" y2="350.90" stroke="#333" stroke-width="1"/>
<line x1="388.90" y1="348.50" x2="388.90" y2="350.90" stroke="#333" stroke-width="1"/>
<line x1="425.25" y1="348.50" x2="425.25" y2="350.90" stroke="#333" stroke-width="1"/>
<line x1="461.60" y1="348.50" x2="461.60" y2="350.90" stroke="#333" stroke-width="1"/>
<line x1="329.18" y1="341.78" x2="329.18" y2="343.74" stroke="#333" stroke-width="0.9"/>
<line x1="327.68" y1="341.78" x2="330.68" y2="341.78" stroke="#333" stroke-width="1.1"/>
<rect x="323.98" y="343.74" width="10.40" height="4.76" fill="#000" stroke="none" stroke-width="1"/>
<line x1="339.57" y1="343.18" x2="339.57" y2="345.42" stroke="#333" stroke-width="0.9"/>
<line x1="338.07" y1="343.18" x2="341.07" y2="343.18" stroke="#333" stroke-width="1.1"/>
<rect x="334.77" y="345.82" width="9.60" height="2.68" fill="#fff" stroke="#222" stroke-width="0.9"/>
<text x="334.38" y="363.10" font-size="8" text-anchor="middle" fill="#111" >0</text>
<line x1="365.53" y1="328.62" x2="365.53" y2="331.98" stroke="#333" stroke-width="0.9"/>
<line x1="364.03" y1="328.62" x2="367.03" y2="328.62" stroke="#333" stroke-width="1.1"/>
<rect x="360.33" y="331.98" width="10.40" height="16.52" fill="#000" stroke="none" stroke-width="1"/>
<line x1="375.93" y1="332.82" x2="375.93" y2="335.62" stroke="#333" stroke-width="0.9"/>
<line x1="374.43" y1="332.82" x2="377.43" y2="332.82" stroke="#333" stroke-width="1.1"/>
<rect x="371.12" y="336.02" width="9.60" height="12.48" fill="#fff" stroke="#222" stroke-width="0.9"/>
<text x="370.73" y="363.10" font-size="8" text-anchor="middle" fill="#111" >30</text>
<line x1="401.88" y1="258.62" x2="401.88" y2="266.46" stroke="#333" stroke-width="0.9"/>
<line x1="400.38" y1="258.62" x2="403.38" y2="258.62" stroke="#333" stroke-width="1.1"/>
<rect x="396.68" y="266.46" width="10.40" height="82.04" fill="#000" stroke="none" stroke-width="1"/>
<line x1="412.27" y1="309.58" x2="412.27" y2="317.14" stroke="#333" stroke-width="0.9"/>
<line x1="410.77" y1="309.58" x2="413.77" y2="309.58" stroke="#333" stroke-width="1.1"/>
<rect x="407.47" y="317.54" width="9.60" height="30.96" fill="#fff" stroke="#222" stroke-width="0.9"/>
<text x="407.07" y="363.10" font-size="8" text-anchor="middle" fill="#111" >60</text>
<line x1="438.23" y1="247.42" x2="438.23" y2="253.30" stroke="#333" stroke-width="0.9"/>
<line x1="436.73" y1="247.42" x2="439.73" y2="247.42" stroke="#333" stroke-width="1.1"/>
<rect x="433.03" y="253.30" width="10.40" height="95.20" fill="#000" stroke="none" stroke-width="1"/>
<line x1="448.62" y1="309.02" x2="448.62" y2="314.34" stroke="#333" stroke-width="0.9"/>
<line x1="447.12" y1="309.02" x2="450.12" y2="309.02" stroke="#333" stroke-width="1.1"/>
<rect x="443.82" y="314.74" width="9.60" height="33.76" fill="#fff" stroke="#222" stroke-width="0.9"/>
<text x="443.43" y="363.10" font-size="8" text-anchor="middle" fill="#111" >90</text>
<text x="329.80" y="335.80" font-size="5.4" text-anchor="start" fill="#2a2a2a" class="n">N.S.</text>
<text x="365.80" y="323.70" font-size="5.4" text-anchor="start" fill="#2a2a2a" class="n">N.S.</text>
<text x="396.70" y="253.60" font-size="6.2" text-anchor="start" fill="#2a2a2a" class="n">P&lt;0.05</text>
<text x="431.60" y="242.00" font-size="6.2" text-anchor="start" fill="#2a2a2a" class="n">P&lt;0.01</text>
<text x="388.70" y="375.60" font-size="8.5" font-weight="bold" text-anchor="middle" fill="#111" >Seconds</text>
<rect x="322.00" y="242.40" width="8.90" height="8.90" fill="#000" stroke="none" stroke-width="1"/>
<rect x="322.50" y="255.20" width="7.90" height="7.90" fill="#fff" stroke="#333" stroke-width="1"/>
<text x="333.60" y="249.80" font-size="7.8" fill="#111">IgG</text>
<text x="333.60" y="262.10" font-size="7.8" fill="#111">anti-Sema4D</text>
<text transform="translate(285.4,297.9) rotate(-90)" font-size="8.5" font-weight="bold" text-anchor="middle" fill="#111">PLCγ2 Phosphorylation</text>
<text transform="translate(295.3,298.2) rotate(-90)" font-size="8.5" font-weight="bold" text-anchor="middle" fill="#111">(Arbitrary Units)</text>
<defs><filter id="bl" x="-20%" y="-50%" width="140%" height="200%"><feGaussianBlur stdDeviation="0.85"/></filter><filter id="bl2" x="-20%" y="-50%" width="140%" height="200%"><feGaussianBlur stdDeviation="1.2"/></filter></defs>
<text x="102.40" y="406.80" font-size="8.8" font-weight="bold" text-anchor="start" fill="#111" >Sema4D<tspan font-size="6.8" dy="-3.0">(+/+)</tspan></text>
<text x="176.20" y="406.80" font-size="8.8" font-weight="bold" text-anchor="start" fill="#111" >Sema4D<tspan font-size="6.8" dy="-3.0">(-/-)</tspan></text>
<line x1="89.20" y1="409.00" x2="153.70" y2="409.00" stroke="#333" stroke-width="1.4"/>
<line x1="166.20" y1="409.00" x2="230.00" y2="409.00" stroke="#333" stroke-width="1.4"/>
<text x="65.20" y="423.80" font-size="8.2" text-anchor="start" fill="#111" >Sec.</text>
<text x="247.60" y="423.40" font-size="8.2" text-anchor="start" fill="#111" >Sec.</text>
<text transform="translate(95.30,425.00) rotate(-45)" font-size="7.8" fill="#111">0</text>
<text transform="translate(111.20,425.00) rotate(-45)" font-size="7.8" fill="#111">15</text>
<text transform="translate(131.60,425.00) rotate(-45)" font-size="7.8" fill="#111">30</text>
<text transform="translate(150.40,425.00) rotate(-45)" font-size="7.8" fill="#111">60</text>
<text transform="translate(167.60,425.00) rotate(-45)" font-size="7.8" fill="#111">0</text>
<text transform="translate(183.20,425.00) rotate(-45)" font-size="7.8" fill="#111">15</text>
<text transform="translate(203.60,425.00) rotate(-45)" font-size="7.8" fill="#111">30</text>
<text transform="translate(222.00,425.00) rotate(-45)" font-size="7.8" fill="#111">60</text>
<rect x="84.75" y="426.15" width="148.30" height="18.10" fill="#ececec" stroke="#2a2a2a" stroke-width="1.5"/>
<rect x="84.75" y="447.55" width="148.30" height="18.90" fill="#e6e6e6" stroke="#2a2a2a" stroke-width="1.5"/>
<rect x="106.60" y="435.30" width="12.40" height="2.40" rx="1.20" fill="#000" opacity="0.95" filter="url(#bl)"/>
<rect x="113.50" y="434.30" width="7.70" height="4.20" rx="2.10" fill="#000" opacity="1" filter="url(#bl)"/>
<rect x="124.60" y="434.20" width="15.80" height="6.00" rx="3.00" fill="#000" opacity="1.0" filter="url(#bl)"/>
<rect x="143.10" y="435.40" width="13.50" height="4.80" rx="2.40" fill="#000" opacity="1.0" filter="url(#bl)"/>
<rect x="178.50" y="436.40" width="13.80" height="2.40" rx="1.20" fill="#000" opacity="0.85" filter="url(#bl)"/>
<rect x="186.50" y="435.80" width="5.80" height="3.00" rx="1.50" fill="#000" opacity="0.9" filter="url(#bl)"/>
<rect x="196.90" y="435.10" width="12.90" height="3.80" rx="1.90" fill="#000" opacity="1.0" filter="url(#bl)"/>
<rect x="204.50" y="434.30" width="5.30" height="4.60" rx="2.30" fill="#000" opacity="1.0" filter="url(#bl)"/>
<rect x="214.20" y="434.80" width="11.80" height="3.40" rx="1.70" fill="#000" opacity="1.0" filter="url(#bl)"/>
<path d="M222,436.6 Q226.5,436 228.6,431" stroke="#111" stroke-width="2.0" fill="none" stroke-linecap="round" filter="url(#bl)"/>
<path d="M87.4,453.2 Q89,451.4 92,453 L101,454 Q103.6,455 103.3,457.6 Q103,460.3 99,460.2 L90,459.8 Q86.8,459.5 86.9,456 Z" fill="#000" filter="url(#bl)"/>
<rect x="105.90" y="454.30" width="16.10" height="7.00" rx="3.50" fill="#000" opacity="1.0" filter="url(#bl)"/>
<rect x="124.60" y="455.50" width="16.20" height="7.00" rx="3.50" fill="#000" opacity="1.0" filter="url(#bl)"/>
<rect x="143.10" y="456.10" width="14.40" height="6.40" rx="3.20" fill="#000" opacity="1.0" filter="url(#bl)"/>
<rect x="160.60" y="455.70" width="14.40" height="6.60" rx="3.30" fill="#000" opacity="1.0" filter="url(#bl)"/>
<rect x="177.90" y="455.10" width="16.10" height="6.40" rx="3.20" fill="#000" opacity="1.0" filter="url(#bl)"/>
<rect x="196.90" y="453.40" width="13.90" height="6.40" rx="3.20" fill="#000" opacity="1.0" filter="url(#bl)"/>
<rect x="214.20" y="453.80" width="11.80" height="5.40" rx="2.70" fill="#000" opacity="1.0" filter="url(#bl)"/>
<path d="M220,457 Q228.5,457 229.8,449.6" stroke="#000" stroke-width="4.4" fill="none" stroke-linecap="round" filter="url(#bl)"/>
<path d="M86.2,452 Q86.8,461 88,466" stroke="#111" stroke-width="2.6" fill="none" filter="url(#bl2)" opacity="0.85"/>
<text x="288.00" y="407.30" font-size="8.6" font-weight="bold" text-anchor="start" fill="#111" >anti-IgG</text>
<text x="361.20" y="407.40" font-size="8.8" font-weight="bold" text-anchor="start" fill="#111" >anti-Sema4D</text>
<line x1="268.20" y1="409.10" x2="345.40" y2="409.10" stroke="#333" stroke-width="1.4"/>
<line x1="353.80" y1="409.20" x2="424.60" y2="409.20" stroke="#333" stroke-width="1.4"/>
<text transform="translate(274.00,425.40) rotate(-45)" font-size="8.2" fill="#111">0</text>
<text transform="translate(292.60,425.40) rotate(-45)" font-size="8.2" fill="#111">30</text>
<text transform="translate(315.40,425.40) rotate(-45)" font-size="8.2" fill="#111">60</text>
<text transform="translate(335.20,425.40) rotate(-45)" font-size="8.2" fill="#111">90</text>
<text transform="translate(363.60,425.40) rotate(-45)" font-size="8.2" fill="#111">0</text>
<text transform="translate(379.60,425.40) rotate(-45)" font-size="8.2" fill="#111">30</text>
<text transform="translate(398.00,425.40) rotate(-45)" font-size="8.2" fill="#111">60</text>
<text transform="translate(418.40,425.40) rotate(-45)" font-size="8.2" fill="#111">90</text>
<rect x="263.75" y="428.75" width="84.10" height="14.10" fill="#d3d3d3" stroke="#2a2a2a" stroke-width="1.5"/>
<rect x="263.75" y="447.25" width="84.10" height="17.20" fill="#d7d7d7" stroke="#2a2a2a" stroke-width="1.5"/>
<rect x="351.35" y="428.75" width="74.10" height="14.10" fill="#d3d3d3" stroke="#2a2a2a" stroke-width="1.5"/>
<rect x="351.35" y="447.65" width="74.10" height="17.70" fill="#d7d7d7" stroke="#2a2a2a" stroke-width="1.5"/>
<rect x="288.60" y="434.70" width="13.80" height="2.20" rx="1.10" fill="#000" opacity="0.25" filter="url(#bl)"/>
<rect x="308.30" y="434.20" width="16.30" height="5.00" rx="2.50" fill="#000" opacity="1.0" filter="url(#bl)"/>
<ellipse cx="331.4" cy="436.6" rx="3.9" ry="2.7" fill="#000" filter="url(#bl)"/>
<path d="M331,436.4 Q334.2,435.6 336.4,432.8" stroke="#000" stroke-width="2.6" fill="none" stroke-linecap="round" filter="url(#bl)"/>
<path d="M336.5,433 Q339,432.6 341.5,435.4" stroke="#555" stroke-width="1.2" fill="none" filter="url(#bl)"/>
<circle cx="344.1" cy="436.2" r="1.9" fill="#000" filter="url(#bl)"/>
<rect x="265.20" y="454.30" width="16.40" height="4.40" rx="2.20" fill="#000" opacity="1.0" filter="url(#bl)"/>
<rect x="286.00" y="454.20" width="16.40" height="4.40" rx="2.20" fill="#000" opacity="1.0" filter="url(#bl)"/>
<rect x="307.60" y="453.70" width="16.40" height="5.60" rx="2.80" fill="#000" opacity="1.0" filter="url(#bl)"/>
<rect x="291.00" y="453.70" width="11.40" height="5.00" rx="2.50" fill="#000" opacity="1.0" filter="url(#bl)"/>
<path d="M329.4,456.4 C332,456.4 333.5,452.4 336.4,451.6 C339.8,451.0 342,454.4 344.4,455.6" stroke="#000" stroke-width="4.6" fill="none" stroke-linecap="round" filter="url(#bl)"/>
<rect x="357.10" y="435.60" width="11.30" height="2.60" rx="1.30" fill="#000" opacity="0.22" filter="url(#bl2)"/>
<rect x="373.60" y="435.20" width="13.80" height="3.20" rx="1.60" fill="#000" opacity="0.5" filter="url(#bl2)"/>
<rect x="392.10" y="434.90" width="12.60" height="3.80" rx="1.90" fill="#000" opacity="1" filter="url(#bl)"/>
<rect x="409.90" y="435.20" width="13.00" height="3.20" rx="1.60" fill="#000" opacity="0.6" filter="url(#bl2)"/>
<rect x="355.70" y="453.60" width="17.00" height="7.00" rx="3.50" fill="#000" opacity="1.0" filter="url(#bl)"/>
<rect x="375.80" y="454.80" width="13.30" height="5.60" rx="2.80" fill="#000" opacity="1.0" filter="url(#bl)"/>
<rect x="392.60" y="454.20" width="13.80" height="5.20" rx="2.60" fill="#000" opacity="1.0" filter="url(#bl)"/>
<rect x="409.40" y="453.80" width="14.30" height="5.20" rx="2.60" fill="#000" opacity="1.0" filter="url(#bl)"/>
<text x="430.00" y="440.30" font-size="7.8" font-weight="bold" text-anchor="start" fill="#111" >IB: pPLCγ2</text>
<text x="430.00" y="458.50" font-size="7.8" font-weight="bold" text-anchor="start" fill="#111" >IB: PLCγ2</text>
</svg></body></html>
